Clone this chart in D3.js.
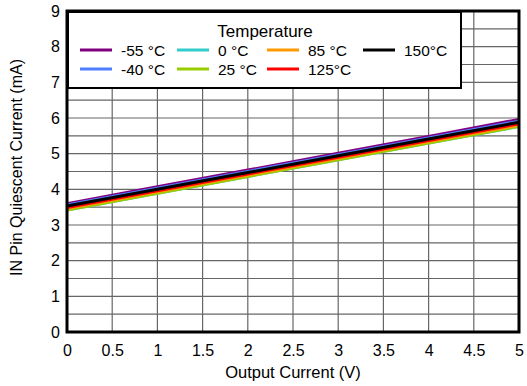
<!DOCTYPE html>
<html><head><meta charset="utf-8">
<script src="https://cdn.jsdelivr.net/npm/d3@7"></script>
<style>body{margin:0;background:#fff}svg{display:block}text{font-family:"Liberation Sans",Arial,sans-serif;fill:#000}</style>
</head><body><svg id="c" width="527" height="386"></svg>
<script>
const xValues = [0, 1, 2, 3, 4, 5];
const seriesNames = ["-55 °C", "-40 °C", "0 °C", "25 °C", "85 °C", "125°C", "150°C"];
const seriesColors = ["#800080", "#4f7fff", "#33cccc", "#99cc00", "#ff9900", "#ff0000", "#000000"];
const vM55 = [3.60, 4.07, 4.54, 5.01, 5.48, 5.96];
const vM40 = [3.56, 4.03, 4.50, 4.97, 5.44, 5.91];
const v0   = [3.42, 3.89, 4.36, 4.83, 5.30, 5.76];
const v25  = [3.42, 3.89, 4.36, 4.83, 5.30, 5.77];
const v85  = [3.46, 3.93, 4.40, 4.87, 5.34, 5.80];
const v125 = [3.49, 3.96, 4.43, 4.90, 5.37, 5.84];
const v150 = [3.53, 4.00, 4.47, 4.94, 5.41, 5.88];
const seriesValues = [vM55, vM40, v0, v25, v85, v125, v150];
const xTicks = [0, 0.5, 1, 1.5, 2, 2.5, 3, 3.5, 4, 4.5, 5];
const xTickLabels = ["0", "0.5", "1", "1.5", "2", "2.5", "3", "3.5", "4", "4.5", "5"];
const yTicks = [0, 1, 2, 3, 4, 5, 6, 7, 8, 9];
const yGrid = [0.5, 1, 1.5, 2, 2.5, 3, 3.5, 4, 4.5, 5, 5.5, 6, 6.5, 7, 7.5, 8, 8.5];

const svg = d3.select("#c");
const L = 67, R = 519, T = 11, B = 332;
const x = d3.scaleLinear().domain([0, 5]).range([L, R]);
const y = d3.scaleLinear().domain([0, 9]).range([B, T]);

// grid
svg.append("g").selectAll("line").data(xTicks.slice(1, -1)).join("line")
  .attr("x1", d => x(d)).attr("x2", d => x(d)).attr("y1", T).attr("y2", B)
  .attr("stroke", "#666").attr("stroke-width", 1.2);
svg.append("g").selectAll("line").data(yGrid).join("line")
  .attr("y1", d => y(d)).attr("y2", d => y(d)).attr("x1", L).attr("x2", R)
  .attr("stroke", "#666").attr("stroke-width", 1.2);

// axes
const xa = svg.append("g").attr("transform", `translate(0,${B})`)
  .call(d3.axisBottom(x).tickValues(xTicks).tickFormat((d, i) => xTickLabels[i]).tickSize(0).tickPadding(13));
xa.select(".domain").remove();
xa.selectAll("text").style("font-size", "16px").style("font-family", "Liberation Sans, Arial, sans-serif").attr("fill", "#000");
const ya = svg.append("g").attr("transform", `translate(${L},0)`)
  .call(d3.axisLeft(y).tickValues(yTicks).tickFormat(d3.format("d")).tickSize(0).tickPadding(7));
ya.select(".domain").remove();
ya.selectAll("text").style("font-size", "16px").style("font-family", "Liberation Sans, Arial, sans-serif").attr("fill", "#000");

// lines
const line = d3.line().x((d, i) => x(xValues[i])).y(d => y(d));
svg.append("g").selectAll("path").data(seriesValues).join("path")
  .attr("d", d => line(d)).attr("fill", "none")
  .attr("stroke", (d, i) => seriesColors[i]).attr("stroke-width", 3);

// frame
svg.append("rect").attr("x", L).attr("y", T).attr("width", R - L).attr("height", B - T)
  .attr("fill", "none").attr("stroke", "#000").attr("stroke-width", 3);

// axis titles
svg.append("text").attr("x", (L + R) / 2).attr("y", 378).attr("text-anchor", "middle")
  .style("font-size", "16.5px").text("Output Current (V)");
svg.append("text").attr("transform", `translate(22,${(T + B) / 2 - 4}) rotate(-90)`).attr("text-anchor", "middle")
  .style("font-size", "16px").text("IN Pin Quiescent Current (mA)");

// legend
const lg = svg.append("g");
lg.append("rect").attr("x", 68).attr("y", 12).attr("width", 393).attr("height", 76)
  .attr("fill", "#fff").attr("stroke", "#000").attr("stroke-width", 2);
lg.append("text").attr("x", 265).attr("y", 37).attr("text-anchor", "middle").style("font-size", "17px").text("Temperature");
const legendOrder = [0, 2, 4, 6, 1, 3, 5];
const colX = [80, 177, 267, 363];
legendOrder.forEach((si, k) => {
  const row = k < 4 ? 0 : 1, col = k < 4 ? k : k - 4;
  const yy = row === 0 ? 50 : 69;
  lg.append("line").attr("x1", colX[col]).attr("x2", colX[col] + 32).attr("y1", yy).attr("y2", yy)
    .attr("stroke", seriesColors[si]).attr("stroke-width", 3);
  lg.append("text").attr("x", colX[col] + 41).attr("y", yy + 6).style("font-size", "15.5px").text(seriesNames[si]);
});
</script></body></html>
